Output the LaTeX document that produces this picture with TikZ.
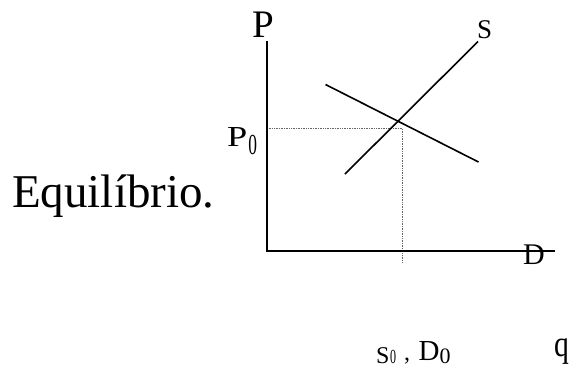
\documentclass[tikz,border=0pt]{standalone}
\usepackage{fontspec}
\setmainfont{Liberation Serif}
\usepackage{tikz}
\usetikzlibrary{calc}
\tikzset{
    curvestyle/.style={line width=1.6pt, line cap=butt},
    axisstyle/.style={line width=1.8pt},
    guidestyle/.style={densely dotted, line width=0.7pt, gray!80!black},
    lbl/.style={inner sep=0pt, anchor=base west}
}
\newcommand{\fs}[1]{\fontsize{#1}{#1}\selectfont}
\newcommand{\narrow}[2]{\scalebox{#1}[1]{#2}}

\begin{document}
\begin{tikzpicture}[x=1pt,y=-1pt]
\useasboundingbox (0,0) rectangle (570,368);
% axes
\coordinate (origin) at (267,251);
\coordinate (ytop) at (267,40.5);
\coordinate (xend) at (555,251);
% curves
\coordinate (s1) at (345,174);
\coordinate (s2) at (478,41.5);
\coordinate (d1) at (325.5,84.5);
\coordinate (d2) at (478.5,162);
\coordinate (eq) at (402,128);
\coordinate (qtick) at (402,262);
\draw[guidestyle] (origin |- eq) -- (eq) -- (qtick);
\draw[axisstyle] (ytop) -- (origin) -- (xend);
\draw[curvestyle] (s1) -- (s2);
\draw[curvestyle] (d1) -- (d2);
% labels
\node[lbl] (plbl) at (252,37.5) {\fs{39}P};
\node[lbl] (slbl) at (477,38) {\fs{27}S};
\node[lbl] (dlbl) at (523,264.5) {\fs{30}D};
\node[lbl] (pzero) at (227,146.7)
  {\fs{29}\scalebox{1.25}[1]{P}\hspace{1pt}\raisebox{-8pt}{\narrow{0.6}{\fs{29}0}}};
\node[lbl] (szero) at (376,363)
  {\fs{24}S\hspace{0.5pt}\narrow{0.6}{\fs{20}0}\hspace{8pt}\raisebox{3pt}{,}};
\node[lbl] (dzero) at (418.5,360) {\fs{29}D\raisebox{-3pt}{\fs{22}0}};
\node[lbl] (qlbl) at (554,356) {\narrow{0.8}{\fs{37}q}};
\node[lbl] (title) at (12,207) {\fs{47}Equilíbrio.};
\end{tikzpicture}
\end{document}
